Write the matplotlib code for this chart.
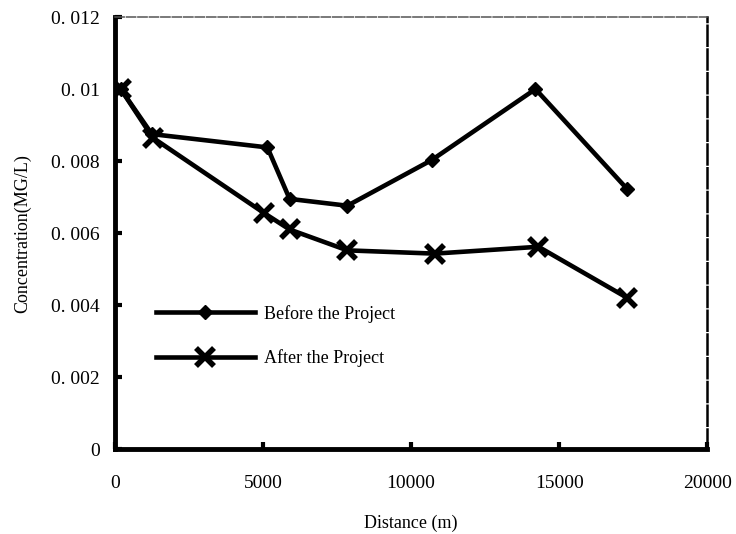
import matplotlib.pyplot as plt
from matplotlib.ticker import FixedLocator

# distances (m) and concentrations (mg/L)
before_x = [200, 1250, 5150, 5900, 7850, 10700, 14200, 17300]
before_y = [0.0100, 0.00875, 0.00838, 0.00695, 0.00676, 0.00803, 0.0100, 0.00722]

after_x = [200, 1280, 5050, 5900, 7850, 10800, 14300, 17300]
after_y = [0.0100, 0.00865, 0.00655, 0.00610, 0.00552, 0.00543, 0.00562, 0.00420]

x_ticks = [0, 5000, 10000, 15000, 20000]
y_ticks = [0, 0.002, 0.004, 0.006, 0.008, 0.01, 0.012]
y_labels = ["0", "0. 002", "0. 004", "0. 006", "0. 008", "0. 01", "0. 012"]

plt.rcParams['font.family'] = ['Liberation Serif', 'DejaVu Serif']

fig = plt.figure(figsize=(7.36, 5.34), dpi=100)
ax = fig.add_axes([0.156, 0.159, 0.805, 0.809])

ax.plot(before_x, before_y, color='black', lw=3.3, marker='D', ms=7,
        label='Before the Project')
ax.plot(after_x, after_y, color='black', lw=3.3, marker='x', ms=13, mew=4,
        label='After the Project')

ax.set_xlim(0, 20000)
ax.set_ylim(0, 0.012)
ax.xaxis.set_major_locator(FixedLocator(x_ticks))
ax.set_xticklabels([str(t) for t in x_ticks], fontsize=14)
ax.yaxis.set_major_locator(FixedLocator(y_ticks))
ax.set_yticklabels(y_labels, fontsize=14)
ax.tick_params(direction='in', length=5, width=3)
ax.tick_params(axis='y', pad=11)
ax.tick_params(axis='x', pad=19)

for side in ['left', 'bottom']:
    ax.spines[side].set_linewidth(3.5)
ax.spines['top'].set_linewidth(1.1)
ax.spines['top'].set_color('#555555')
ax.spines['top'].set_linestyle((0, (6, 1.5)))
ax.spines['right'].set_linewidth(1.8)
ax.spines['right'].set_linestyle((0, (8, 1.5)))

ax.set_xlabel('Distance (m)', fontsize=13, labelpad=16)
ax.set_ylabel('Concentration(MG/L)', fontsize=13, labelpad=14)

ax.legend(loc='center left', bbox_to_anchor=(0.054, 0.262), frameon=False,
          borderpad=0, fontsize=13, handlelength=5.5, handletextpad=0.5,
          labelspacing=1.45)

fig.savefig('out.png', dpi=100)
